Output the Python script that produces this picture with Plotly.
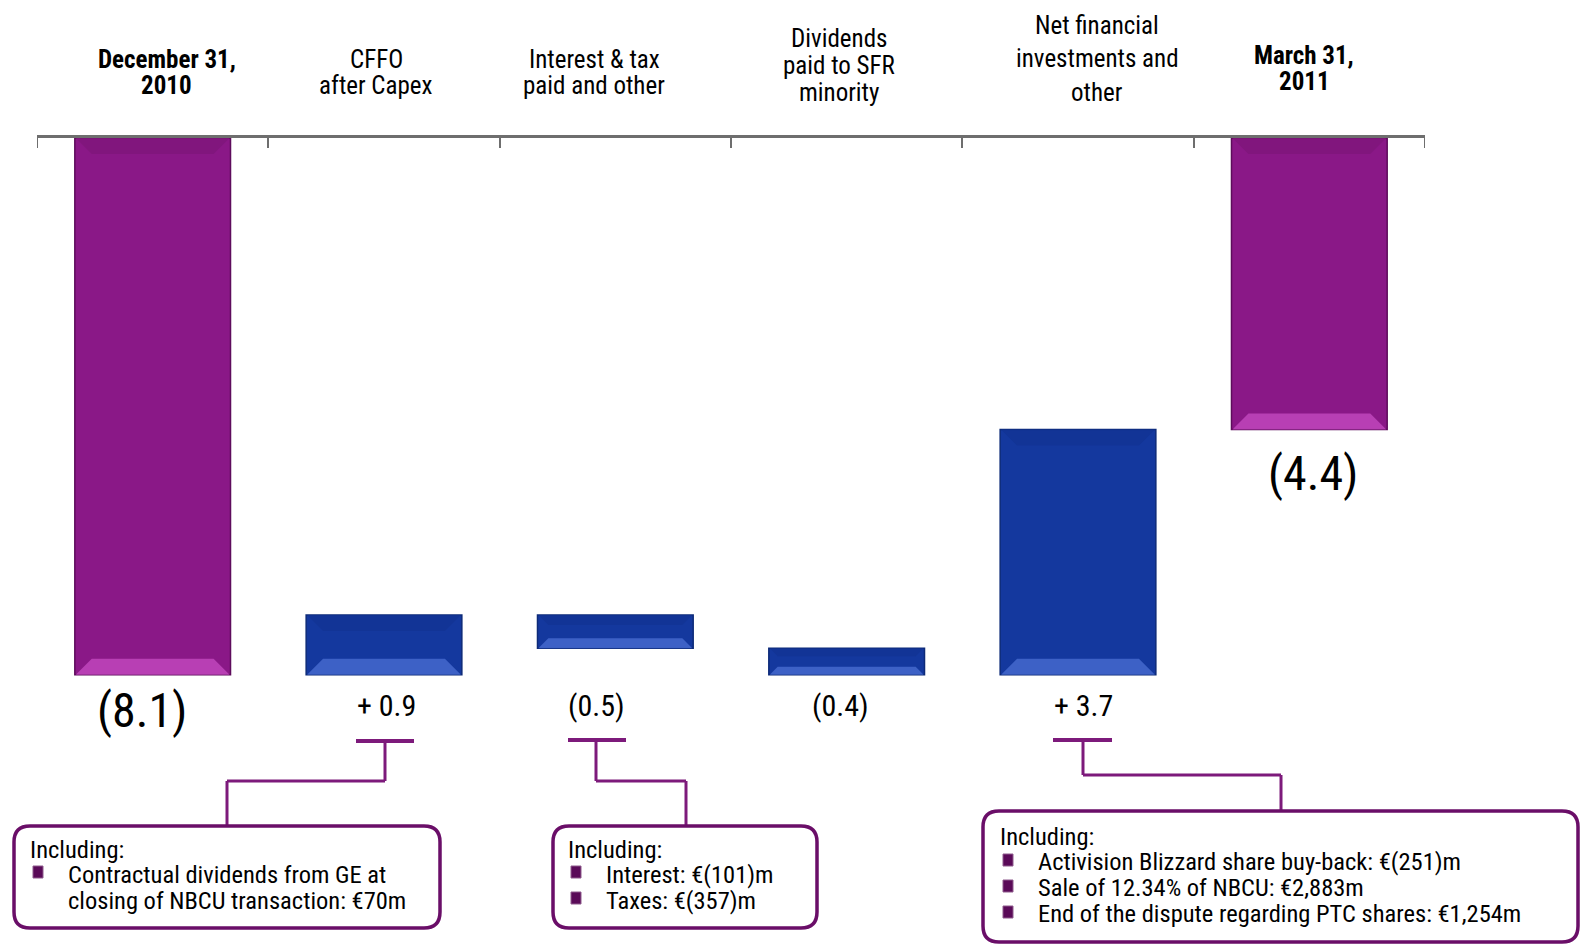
import plotly.graph_objects as go

# ---------------- data ----------------
categories = ["December 31, 2010", "CFFO after Capex", "Interest & tax paid and other",
              "Dividends paid to SFR minority", "Net financial investments and other", "March 31, 2011"]
category_lines = [["December 31,", "2010"], ["CFFO", "after Capex"], ["Interest & tax", "paid and other"],
                  ["Dividends", "paid to SFR", "minority"], ["Net financial", "investments and", "other"],
                  ["March 31,", "2011"]]
opening_net_debt = 8.1          # €bn, shown as (8.1)
cash_flows = [0.9, -0.5, -0.4, 3.7]
closing_net_debt = 4.4          # €bn, shown as (4.4)
value_labels = ["(8.1)", "+ 0.9", "(0.5)", "(0.4)", "+ 3.7", "(4.4)"]

box1_lines = ["Contractual dividends from GE at", "closing of NBCU transaction: €70m"]
box2_lines = ["Interest: €(101)m", "Taxes: €(357)m"]
box3_lines = ["Activision Blizzard share buy-back: €(251)m", "Sale of 12.34% of NBCU: €2,883m",
              "End of the dispute regarding PTC shares: €1,254m"]

# ---------------- waterfall geometry ----------------
bases, heights = [0.0], [opening_net_debt]
level = opening_net_debt
for v in cash_flows:
    new = level - v
    bases.append(min(level, new))
    heights.append(abs(v))
    level = new
bases.append(0.0)
heights.append(closing_net_debt)

PURPLE = "#8A1887"
BLUE = "#14389E"
colors = [PURPLE] + [BLUE] * len(cash_flows) + [PURPLE]
line_colors = ["#5E0C5C"] + ["#0D2A78"] * len(cash_flows) + ["#5E0C5C"]
light_colors = ["#C046BC"] + ["#4468CC"] * len(cash_flows) + ["#C046BC"]
dark_colors = ["#7E167B"] + ["#123393"] * len(cash_flows) + ["#7E167B"]

FONT = "Liberation Sans Narrow, Arial Narrow, Roboto Condensed, DejaVu Sans Condensed, sans-serif"
W, H = 1585, 944
L, R, T, B = 37, 160, 138, 0
PW, PH = W - L - R, H - T - B
PX_PER_UNIT = 66.26
YMAX = PH / PX_PER_UNIT
BAR_W = 0.673
PX_PER_CAT = PW / len(categories)
AXIS_GREY = "#6E6E6E"


def px(x):
    return (x - L) / PW


def py(y):
    return 1 - (y - T) / PH


xs = list(range(len(categories)))

fig = go.Figure()
fig.add_trace(go.Bar(
    x=xs, y=heights, base=bases, width=BAR_W,
    marker=dict(color=colors, line=dict(color=line_colors, width=1.5)),
    hoverinfo="skip", showlegend=False,
))

shapes = []

# end ticks of the top axis (category boundaries at both ends)
for xb in (-0.5, len(categories) - 0.5):
    shapes.append(dict(type="line", xref="x", yref="y", x0=xb, x1=xb, y0=0, y1=10 / PX_PER_UNIT,
                       line=dict(color=AXIS_GREY, width=2)))

# bevel-like shading on each bar (derived from bar data)
for i in xs:
    top, bot = bases[i], bases[i] + heights[i]
    hpx = heights[i] * PX_PER_UNIT
    b = min(16.0, hpx * 0.3)
    dx = b / PX_PER_CAT
    dy = b / PX_PER_UNIT
    xl, xr = i - BAR_W / 2 + 0.004, i + BAR_W / 2 - 0.004
    shapes.append(dict(type="path", xref="x", yref="y", layer="above",
                       path=f"M {xl},{bot} L {xr},{bot} L {xr-dx},{bot-dy} L {xl+dx},{bot-dy} Z",
                       fillcolor=light_colors[i], line=dict(width=0), opacity=0.85))
    shapes.append(dict(type="path", xref="x", yref="y", layer="above",
                       path=f"M {xl},{top} L {xr},{top} L {xr-dx},{top+dy} L {xl+dx},{top+dy} Z",
                       fillcolor=dark_colors[i], line=dict(width=0), opacity=0.8))

annotations = []
# category labels on top
cat_y = [[59.6, 85.9], [59.6, 85.9], [59.6, 85.9], [38.4, 65.7, 92.0], [25.3, 58.6, 92.0], [55.6, 81.9]]
cat_dx = [14, -8, -21, -8, 19, -5]
for i, lines in enumerate(category_lines):
    bold = i in (0, len(categories) - 1)
    for j, t in enumerate(lines):
        annotations.append(dict(
            x=xs[i], xref="x", xshift=cat_dx[i], y=py(cat_y[i][j]), yref="paper",
            text=f"<b>{t}</b>" if bold else t, showarrow=False,
            xanchor="center", yanchor="middle",
            font=dict(family=FONT, size=25, color="#000000"),
        ))

# value labels under bars
val_dx = [-11, 2, -19, -6, 5, 4]
for i, t in enumerate(value_labels):
    if i == 0:
        yv, ys, fs = bases[i] + heights[i], -36, 48
    elif i == len(value_labels) - 1:
        yv, ys, fs = bases[i] + heights[i], -44, 48
    else:
        yv, ys, fs = max(b + h for b, h in zip(bases[1:-1], heights[1:-1])), -31, 30
    annotations.append(dict(
        x=xs[i], xref="x", xshift=val_dx[i], y=yv, yref="y", yshift=ys,
        text=t, showarrow=False, xanchor="center", yanchor="middle",
        font=dict(family=FONT, size=fs, color="#000000"),
    ))

CONN = "#7D1A7B"
BOXC = "#6A0E68"


def seg(x0, y0, x1, y1, w=3):
    shapes.append(dict(type="line", xref="paper", yref="paper",
                       x0=px(x0), y0=py(y0), x1=px(x1), y1=py(y1),
                       line=dict(color=CONN, width=w)))


def connector(tx0, tx1, ty, xv, ymid, xb, ybox):
    seg(tx0, ty, tx1, ty, 4)
    seg(xv, ty, xv, ymid)
    seg(xv, ymid, xb, ymid)
    seg(xb, ymid, xb, ybox)


connector(356, 414, 741, 385, 781, 227, 826)
connector(568, 626, 740, 596, 781, 686, 826)
connector(1053, 1112, 740, 1083, 775, 1281, 811)


def rbox(x0, y0, x1, y1, r=16):
    X0, X1 = px(x0), px(x1)
    Y0, Y1 = py(y0), py(y1)
    rx, ry = r / PW, r / PH
    path = (f"M {X0+rx},{Y0} L {X1-rx},{Y0} Q {X1},{Y0} {X1},{Y0-ry} "
            f"L {X1},{Y1+ry} Q {X1},{Y1} {X1-rx},{Y1} "
            f"L {X0+rx},{Y1} Q {X0},{Y1} {X0},{Y1+ry} "
            f"L {X0},{Y0-ry} Q {X0},{Y0} {X0+rx},{Y0} Z")
    shapes.append(dict(type="path", xref="paper", yref="paper", path=path,
                       fillcolor="white", line=dict(color=BOXC, width=3.5)))


BOX_FS = 24.5


def box_text(x_inc, y_inc, x_txt, ys, lines):
    annotations.append(dict(x=px(x_inc), y=py(y_inc), xref="paper", yref="paper",
                            text="Including:", showarrow=False, xanchor="left", yanchor="middle",
                            font=dict(family=FONT, size=BOX_FS, color="#000000")))
    for yy, t in zip(ys, lines):
        annotations.append(dict(x=px(x_txt), y=py(yy), xref="paper", yref="paper",
                                text=t, showarrow=False, xanchor="left", yanchor="middle",
                                font=dict(family=FONT, size=BOX_FS, color="#000000")))


def bullet(xc, yc):
    shapes.append(dict(type="rect", xref="paper", yref="paper",
                       x0=px(xc - 5), x1=px(xc + 5), y0=py(yc - 6), y1=py(yc + 6),
                       fillcolor="#5A0A58", line=dict(color="#8E5A8C", width=1)))


rbox(14, 826, 440, 928)
rbox(553, 826, 817, 928)
rbox(983, 811, 1578, 942)

box_text(28, 849, 66, [874, 900], box1_lines)
bullet(38, 872)
box_text(566, 849, 604, [874, 900], box2_lines)
for yy in [872, 898]:
    bullet(576, yy)
box_text(998, 836, 1036, [861, 887, 913], box3_lines)
for yy in [860, 886, 912]:
    bullet(1008, yy)

fig.update_layout(
    width=W, height=H, autosize=False,
    margin=dict(l=L, r=R, t=T, b=B, pad=0),
    paper_bgcolor="white", plot_bgcolor="white",
    xaxis=dict(type="linear", range=[-0.5, len(categories) - 0.5], side="top",
               showline=True, linecolor=AXIS_GREY, linewidth=2.5,
               ticks="inside", ticklen=10, tickwidth=2, tickcolor=AXIS_GREY,
               tickmode="array", tickvals=[i - 0.5 for i in range(len(categories) + 1)],
               showticklabels=False, showgrid=False, zeroline=False, fixedrange=True),
    yaxis=dict(range=[YMAX, 0], visible=False, showgrid=False, zeroline=False, fixedrange=True),
    shapes=shapes,
    annotations=annotations,
    font=dict(family=FONT),
)

fig.write_html("out.html", config={"displayModeBar": False},
               post_script="document.body.style.margin='0';document.body.style.overflow='hidden';")
